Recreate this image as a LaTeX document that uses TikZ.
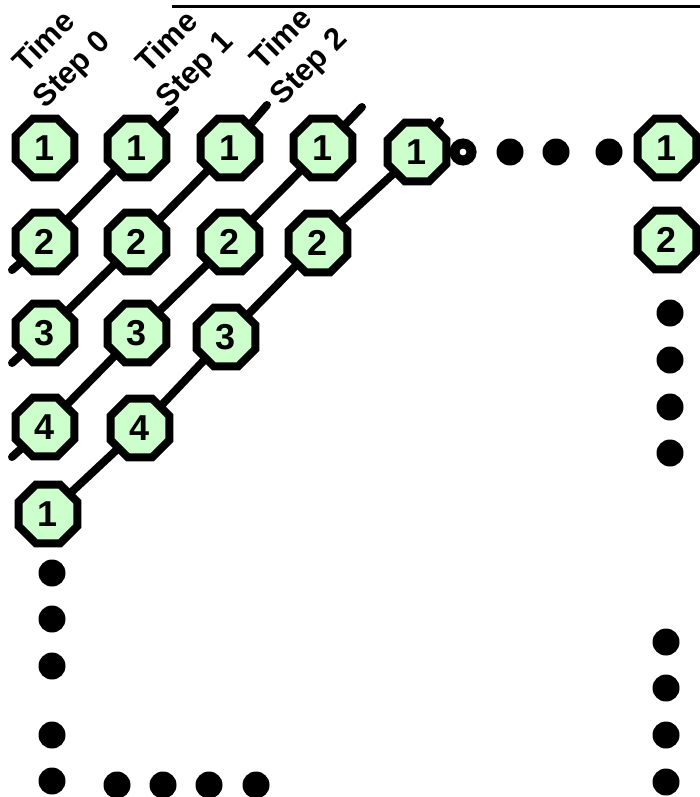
\documentclass[tikz,border=0pt]{standalone}
\usepackage{fontspec}
\setmainfont{Liberation Sans}
\usepackage{xcolor}
\usepackage{tikz}
\usetikzlibrary{
  shapes.geometric,
  backgrounds
}
\definecolor{CellGreen}{HTML}{CCFFCC}
\tikzset{
  cell/.style={
    regular polygon,
    regular polygon sides=8,
    draw=black,
    line width=8pt,
    fill=CellGreen,
    minimum size=63.5pt,
    inner sep=0pt,
    font=\bfseries\fontsize{36}{36}\selectfont
  },
  dotmark/.style={
    circle,
    fill=black,
    minimum size=27pt,
    inner sep=0pt
  },
  ringmark/.style={
    circle,
    draw=black,
    line width=10pt,
    minimum size=17pt,
    inner sep=0pt
  },
  diagonal/.style={
    line width=8pt,
    line cap=round,
    line join=round
  },
  steplabel/.style={
    rotate=45,
    align=center,
    inner sep=0pt,
    font=\bfseries\fontsize{31}{39}\selectfont
  }
}

\begin{document}
\begin{tikzpicture}[x=1pt, y=-1pt]

  \useasboundingbox (0,0) rectangle (700,797);

  % time step labels
  \node[steplabel] (ts0) at (59,57) {Time\\Step 0};
  \node[steplabel] (ts1) at (182,57) {Time\\Step 1};
  \node[steplabel] (ts2) at (296,54) {Time\\Step 2};

  % rule along the top
  \coordinate (ruleL) at (172,7);
  \coordinate (ruleR) at (700,7);
  \draw[line width=3pt] (ruleL) -- (ruleR);

  % row 0
  \node[cell] (n00) at (45,148) {1};
  \node[cell] (n01) at (137,148) {1};
  \node[cell] (n02) at (230,148) {1};
  \node[cell] (n03) at (323,148) {1};
  \node[cell] (n04) at (417,152) {1};
  \node[ringmark] (gap) at (463,152) {};
  \node[dotmark] (top1) at (510,152) {};
  \node[dotmark] (top2) at (556,152) {};
  \node[dotmark] (top3) at (609,152) {};
  \node[cell] (nR0) at (667,148) {1};

  % row 1
  \node[cell] (n10) at (45,242) {2};
  \node[cell] (n11) at (137,242) {2};
  \node[cell] (n12) at (230,242) {2};
  \node[cell] (n13) at (318,243) {2};
  \node[cell] (nR1) at (667,240) {2};

  % row 2
  \node[cell] (n20) at (45,333) {3};
  \node[cell] (n21) at (137,333) {3};
  \node[cell] (n22) at (226,337) {3};

  % row 3
  \node[cell] (n30) at (45,427) {4};
  \node[cell] (n31) at (140,428) {4};

  % row 4
  \node[cell] (n40) at (48,514) {1};

  % right column dots
  \node[dotmark] (right1) at (670,313) {};
  \node[dotmark] (right2) at (670,360) {};
  \node[dotmark] (right3) at (670,407) {};
  \node[dotmark] (right4) at (670,453) {};
  \node[dotmark] (right5) at (666,642) {};
  \node[dotmark] (right6) at (666,688) {};
  \node[dotmark] (right7) at (666,735) {};
  \node[dotmark] (right8) at (666,782) {};

  % left column dots
  \node[dotmark] (left1) at (52,573) {};
  \node[dotmark] (left2) at (52,619) {};
  \node[dotmark] (left3) at (52,666) {};
  \node[dotmark] (left4) at (52,735) {};
  \node[dotmark] (left5) at (52,781) {};

  % bottom row dots
  \node[dotmark] (bot1) at (117,785) {};
  \node[dotmark] (bot2) at (163,785) {};
  \node[dotmark] (bot3) at (209,785) {};
  \node[dotmark] (bot4) at (256,785) {};

  % free ends of the diagonals
  \coordinate (d1top) at (175,110);
  \coordinate (d1bot) at (12,270);
  \coordinate (d2top) at (267,105);
  \coordinate (d2bot) at (12,363);
  \coordinate (d3top) at (362,107);
  \coordinate (d3bot) at (12,457);
  \coordinate (d4top) at (440,121);

  \begin{scope}[on background layer]
    \draw[diagonal] (d1top) -- (n01.center) -- (n10.center) -- (d1bot);
    \draw[diagonal] (d2top) -- (n02.center) -- (n11.center) -- (n20.center) -- (d2bot);
    \draw[diagonal] (d3top) -- (n03.center) -- (n12.center) -- (n21.center) -- (n30.center) -- (d3bot);
    \draw[diagonal] (d4top) -- (n04.center) -- (n13.center) -- (n22.center) -- (n31.center) -- (n40.center);
  \end{scope}

\end{tikzpicture}
\end{document}
